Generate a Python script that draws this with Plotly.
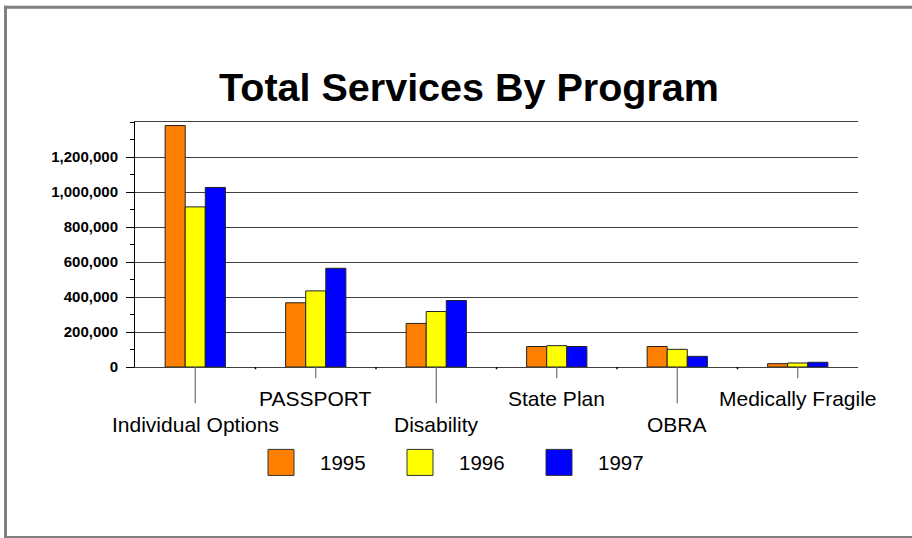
import plotly.graph_objects as go

# Program categories and yearly service totals
programs = ["Individual Options", "PASSPORT", "Disability", "State Plan", "OBRA", "Medically Fragile"]
years = ["1995", "1996", "1997"]
services_1995 = [1380000, 367000, 249000, 117000, 117000, 19000]
services_1996 = [915000, 435000, 317000, 122000, 101000, 23000]
services_1997 = [1026000, 564000, 380000, 117000, 61000, 27000]
year_colors = ["#FF8000", "#FFFF00", "#0000FF"]
y_tick_values = [0, 200000, 400000, 600000, 800000, 1000000, 1200000]

W, H = 912, 538
L, R, T, B = 135, 858, 122, 366.7
FONT = "Arial, Liberation Sans, Helvetica, sans-serif"


def px(x):
    return (x - L) / (R - L)


def py(y):
    return (B - y) / (B - T)


fig = go.Figure()
for year, vals, col in zip(years, [services_1995, services_1996, services_1997], year_colors):
    fig.add_trace(go.Bar(
        x=programs, y=vals, name=year,
        marker=dict(color=col, line=dict(color="#222222", width=1)),
        showlegend=False,
    ))

shapes = []
annotations = []

# staggered category labels with their leader ticks
for i, name in enumerate(programs):
    low = i % 2 == 0
    shapes.append(dict(type="line", xref="x", yref="paper", x0=i, x1=i,
                       y0=0, y1=py(403 if low else 378),
                       line=dict(color="#707070", width=1.2)))
    annotations.append(dict(x=i, xref="x", y=py(424 if low else 398), yref="paper",
                            text=name, showarrow=False, xanchor="center", yanchor="middle",
                            font=dict(family=FONT, size=21, color="#000000")))
    if i < len(programs) - 1:
        shapes.append(dict(type="line", xref="x", yref="paper", x0=i + 0.5, x1=i + 0.5,
                           y0=0, y1=py(369), line=dict(color="#000000", width=1.5)))

# legend drawn as swatches and labels
for k, (year, col) in enumerate(zip(years, year_colors)):
    x0 = 268 + 139 * k
    shapes.append(dict(type="rect", xref="paper", yref="paper",
                       x0=px(x0), x1=px(x0 + 26), y0=py(475), y1=py(449),
                       fillcolor=col, line=dict(color="#333333", width=1)))
    annotations.append(dict(x=px(x0 + 50), xref="paper", y=py(462), yref="paper",
                            text=year, showarrow=False, xanchor="left", yanchor="middle",
                            font=dict(family=FONT, size=20.5, color="#000000")))

# outer frame: top, left and bottom edges
shapes.append(dict(type="line", xref="paper", yref="paper", x0=px(4), x1=px(W),
                   y0=py(7.5), y1=py(7.5), line=dict(color="#808080", width=3)))
shapes.append(dict(type="line", xref="paper", yref="paper", x0=px(5.5), x1=px(5.5),
                   y0=py(6), y1=py(538), line=dict(color="#808080", width=3)))
shapes.append(dict(type="line", xref="paper", yref="paper", x0=px(4), x1=px(W),
                   y0=py(536.5), y1=py(536.5), line=dict(color="#808080", width=2)))

fig.update_layout(
    width=W, height=H,
    margin=dict(l=L, r=W - R, t=T, b=H - B, pad=0),
    paper_bgcolor="white", plot_bgcolor="white",
    bargap=0.5, bargroupgap=0, barmode="group",
    title=dict(text="<b>Total Services By Program</b>", x=469 / W, y=1 - 87 / H,
               xref="container", yref="container", xanchor="center", yanchor="middle",
               font=dict(family=FONT, size=39.5, color="#000000")),
    shapes=shapes, annotations=annotations,
    font=dict(family=FONT, color="#000000"),
)
fig.update_xaxes(
    range=[-0.5, len(programs) - 0.5], autorange=False,
    showticklabels=False, ticks="", showgrid=False,
    showline=True, mirror=True, linecolor="#404040", linewidth=1,
    zeroline=False,
)
fig.update_yaxes(
    range=[0, 1400000], tickvals=y_tick_values, tickformat=",d",
    ticks="outside", ticklen=8, tickcolor="#000000", tickwidth=1,
    ticklabelstandoff=5,
    showline=True, linecolor="#000000", linewidth=1,
    showgrid=True, gridcolor="#404040", gridwidth=1,
    zeroline=False,
    minor=dict(dtick=100000, tick0=0, ticks="outside", ticklen=4, tickcolor="#000000", showgrid=False),
    tickfont=dict(family=FONT, size=15, color="#000000", weight="bold"),
)

fig.write_html("out.html")
